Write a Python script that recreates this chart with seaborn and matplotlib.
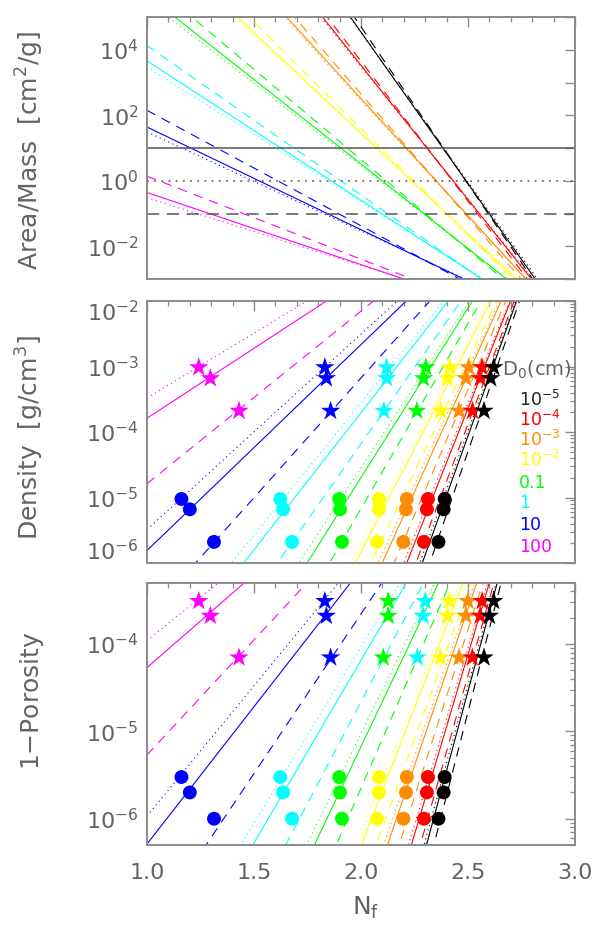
import numpy as np
import pandas as pd
import matplotlib
matplotlib.use("Agg")
import matplotlib.pyplot as plt
import matplotlib.ticker as mticker
import matplotlib.transforms as mtransforms
import seaborn as sns

# ---------------- data ----------------
sizes = ["10$^{-5}$", "10$^{-4}$", "10$^{-3}$", "10$^{-2}$", "0.1", "1", "10", "100"]
colors = ["#000000", "#ff0000", "#ff8c00", "#ffff00", "#00ff00", "#00ffff", "#0000ff", "#ff00ff"]

nf_ends = [1.0, 3.0]

# Area/Mass: log10 value at Nf=1 and Nf=3 (lines are straight in log space)
am_solid_start = [13.8, 11.72, 9.67, 7.60, 5.67, 3.66, 1.64, -0.36]
am_solid_end = [-4.72, -4.67, -4.65, -4.70, -4.65, -4.85, -4.63, -4.76]
am_dotted_start = [13.65, 11.57, 9.52, 7.45, 5.50, 3.47, 1.49, -0.52]
am_dotted_end = [-4.60, -4.60, -4.60, -4.60, -4.60, -4.75, -4.55, -4.65]
am_dashed_start = [14.3, 12.2, 10.2, 8.1, 6.15, 4.13, 2.15, 0.14]
am_dashed_end = [-4.90, -4.90, -4.90, -4.90, -4.85, -5.00, -4.90, -4.93]
am_ref_values = [10.0, 1.0, 0.1]
am_ref_styles = ["-", ":", "--"]

# Density: log10 value at Nf=1 and Nf=3
rho_solid_start = [-17.68, -16.0, -13.9, -12.14, -9.87, -7.89, -5.81, -3.79]
rho_dotted_start = [-17.38, -15.7, -13.6, -11.84, -9.57, -7.59, -5.49, -3.48]
rho_dashed_start = [-18.63, -16.95, -14.85, -13.09, -10.82, -8.84, -6.83, -4.79]
rho_end = [0.48, 0.48, 0.48, 0.48, 0.48, 0.48, 0.48, 0.48]

# 1-Porosity: log10 value at Nf=1 and Nf=3
por_solid_start = [-18.16, -16.48, -14.38, -12.62, -10.35, -8.37, -6.29, -4.27]
por_dotted_start = [-17.86, -16.18, -14.08, -12.32, -10.05, -8.07, -5.97, -3.96]
por_dashed_start = [-19.11, -17.43, -15.33, -13.57, -11.30, -9.32, -7.31, -5.27]
por_end = [0.0, 0.0, 0.0, 0.0, 0.0, 0.0, 0.0, 0.0]

# markers (stars: all 8 sizes, circles: first 7 sizes)
dens_star_x = [[2.62, 2.606, 2.575], [2.566, 2.557, 2.521], [2.503, 2.49, 2.458],
               [2.415, 2.404, 2.373], [2.303, 2.292, 2.261], [2.12, 2.12, 2.107],
               [1.831, 1.838, 1.858], [1.242, 1.296, 1.43]]
dens_star_y = [9.7e-4, 6.6e-4, 2.1e-4]
dens_circ_x = [[2.391, 2.386, 2.362], [2.313, 2.308, 2.294], [2.214, 2.21, 2.198],
               [2.084, 2.084, 2.075], [1.898, 1.902, 1.911], [1.623, 1.636, 1.678],
               [1.161, 1.2, 1.313]]
dens_circ_y = [9.5e-6, 6.6e-6, 2.1e-6]

por_star_x = [[2.62, 2.60, 2.575], [2.566, 2.557, 2.52], [2.50, 2.49, 2.458],
              [2.413, 2.404, 2.371], [2.127, 2.127, 2.104], [2.30, 2.29, 2.263],
              [1.831, 1.838, 1.858], [1.242, 1.296, 1.43]]
por_star_y = [3.1e-4, 2.1e-4, 7.0e-5]
por_circ_x = dens_circ_x
por_circ_y = [3.0e-6, 2.0e-6, 1.0e-6]

# ---------------- style ----------------
sns.set_theme(style="white")
plt.rcParams["font.family"] = ["DejaVu Sans"]
TXT = "#636363"
AX = "#8a8a8a"

palette = dict(zip(sizes, colors))
dash_map = {"solid": "", "dotted": (1.0, 3.2), "dashed": (8.5, 6.5)}


def line_frame(starts_by_style, ends_by_style):
    rows = []
    for style, starts in starts_by_style.items():
        ends = ends_by_style[style]
        for i, s in enumerate(sizes):
            for nf, lv in zip(nf_ends, [starts[i], ends[i]]):
                rows.append({"nf": nf, "val": 10.0 ** lv, "size": s,
                             "style": style, "unit": f"{s}-{style}"})
    return pd.DataFrame(rows)


def marker_frame(xs, ys, size_list):
    rows = []
    for i in reversed(range(len(xs))):
        for x, y in zip(xs[i], ys):
            rows.append({"nf": x, "val": y, "size": size_list[i]})
    return pd.DataFrame(rows)


fig = plt.figure(figsize=(6.04, 9.33), dpi=100)
left, width, h = 147 / 604, 428 / 604, 262 / 933
ax_top = fig.add_axes([left, 1 - 279 / 933, width, h])
ax_mid = fig.add_axes([left, 1 - 563 / 933, width, h])
ax_bot = fig.add_axes([left, 1 - 845 / 933, width, h])

for ax in (ax_top, ax_mid, ax_bot):
    ax.set_yscale("log")
    ax.set_xlim(1.0, 3.0)

STAR_S = 215
CIRC_S = 100

# top panel
df_am = line_frame({"solid": am_solid_start, "dotted": am_dotted_start, "dashed": am_dashed_start},
                   {"solid": am_solid_end, "dotted": am_dotted_end, "dashed": am_dashed_end})
sns.lineplot(data=df_am, x="nf", y="val", hue="size", style="style", units="unit",
             estimator=None, palette=palette, dashes=dash_map, linewidth=0.8,
             legend=False, ax=ax_top)
for v, ls in zip(am_ref_values, am_ref_styles):
    kw = {}
    if ls == "--":
        kw["dashes"] = (8, 5)
    elif ls == ":":
        kw["dashes"] = (1.2, 3.5)
    ax_top.axhline(v, color="#555555", linewidth=1.1, linestyle=ls, **kw)
ax_top.set_ylim(1e-3, 1e5)

# middle panel
df_rho = line_frame({"solid": rho_solid_start, "dotted": rho_dotted_start, "dashed": rho_dashed_start},
                    {"solid": rho_end, "dotted": rho_end, "dashed": rho_end})
sns.lineplot(data=df_rho, x="nf", y="val", hue="size", style="style", units="unit",
             estimator=None, palette=palette, dashes=dash_map, linewidth=0.8,
             legend=False, ax=ax_mid)
sns.scatterplot(data=marker_frame(dens_circ_x, dens_circ_y, sizes[:7]), x="nf", y="val",
                hue="size", palette=palette, marker="o", s=CIRC_S, linewidth=0,
                legend=False, ax=ax_mid, zorder=3)
sns.scatterplot(data=marker_frame(dens_star_x, dens_star_y, sizes), x="nf", y="val",
                hue="size", palette=palette, marker="*", s=STAR_S, linewidth=0,
                legend=False, ax=ax_mid, zorder=4)
ax_mid.set_ylim(1e-6, 1e-2)

# bottom panel
df_por = line_frame({"solid": por_solid_start, "dotted": por_dotted_start, "dashed": por_dashed_start},
                    {"solid": por_end, "dotted": por_end, "dashed": por_end})
sns.lineplot(data=df_por, x="nf", y="val", hue="size", style="style", units="unit",
             estimator=None, palette=palette, dashes=dash_map, linewidth=0.8,
             legend=False, ax=ax_bot)
sns.scatterplot(data=marker_frame(por_circ_x, por_circ_y, sizes[:7]), x="nf", y="val",
                hue="size", palette=palette, marker="o", s=CIRC_S, linewidth=0,
                legend=False, ax=ax_bot, zorder=3)
sns.scatterplot(data=marker_frame(por_star_x, por_star_y, sizes), x="nf", y="val",
                hue="size", palette=palette, marker="*", s=STAR_S, linewidth=0,
                legend=False, ax=ax_bot, zorder=4)
ax_bot.set_ylim(5e-7, 5e-4)

# ---------------- axes decoration ----------------
def even_fmt(v, pos):
    e = int(round(np.log10(v)))
    return f"$\\mathdefault{{10^{{{e}}}}}$" if e % 2 == 0 else ""

ax_top.yaxis.set_major_locator(mticker.LogLocator(base=10, subs=(1.0,), numticks=20))
ax_top.yaxis.set_major_formatter(mticker.FuncFormatter(even_fmt))
ax_top.yaxis.set_minor_locator(mticker.NullLocator())
for ax in (ax_mid, ax_bot):
    ax.yaxis.set_major_locator(mticker.LogLocator(base=10, subs=(1.0,), numticks=20))
    ax.yaxis.set_minor_locator(mticker.LogLocator(base=10, subs=np.arange(2, 10), numticks=20))
    ax.yaxis.set_minor_formatter(mticker.NullFormatter())

for ax in (ax_top, ax_mid, ax_bot):
    ax.xaxis.set_major_locator(mticker.MultipleLocator(0.5))
    ax.xaxis.set_minor_locator(mticker.MultipleLocator(0.1))
    ax.xaxis.set_major_formatter(mticker.FormatStrFormatter("%.1f"))
    ax.tick_params(which="both", direction="in", top=True, right=True, color=AX,
                   labelcolor=TXT, labelsize=16)
    ax.tick_params(which="major", length=7, width=1.0)
    ax.tick_params(which="minor", length=3.5, width=0.9)
    ax.tick_params(axis="y", pad=6)
    ax.tick_params(axis="x", pad=13)
    for sp in ax.spines.values():
        sp.set_color(AX)
        sp.set_linewidth(1.4)
    ax.set_xlabel("")
    ax.set_ylabel("")
    ax.grid(False)

ax_top.tick_params(axis="x", labelbottom=False)
ax_mid.tick_params(axis="x", labelbottom=False)

ax_top.set_ylabel("Area/Mass  [cm$^2$/g]", fontsize=18, color=TXT)
ax_mid.set_ylabel("Density  [g/cm$^3$]", fontsize=18, color=TXT)
ax_bot.set_ylabel("1$-$Porosity", fontsize=18, color=TXT)
ax_top.yaxis.set_label_coords(-0.235, 0.49)
ax_mid.yaxis.set_label_coords(-0.235, 0.48)
ax_bot.yaxis.set_label_coords(-0.235, 0.55)
ax_bot.set_xlabel("N$_\\mathregular{f}$", fontsize=18, color=TXT)
ax_bot.xaxis.set_label_coords(0.51, -0.19)

# size legend text
ax_mid.text(0.83, 0.737, "D$_0$(cm)", transform=ax_mid.transAxes, color=TXT,
            fontsize=14, va="center", ha="left")
leg_y = [0.622, 0.546, 0.469, 0.393, 0.305, 0.229, 0.145, 0.061]
for s, c, yy in zip(sizes, colors, leg_y):
    ax_mid.text(0.87, yy, s, transform=ax_mid.transAxes,
                color=c if c != "#000000" else "#222222",
                fontsize=12.5, va="center", ha="left")

# IDL-like nudging of the end labels of the density axis
fig.canvas.draw()
yl_ticks = ax_mid.yaxis.get_major_ticks()
yl_locs = ax_mid.yaxis.get_majorticklocs()
for tk, loc in zip(yl_ticks, yl_locs):
    if np.isclose(loc, 1e-2):
        tk.label1.set_transform(tk.label1.get_transform() +
                                mtransforms.ScaledTranslation(0, -7 / 72, fig.dpi_scale_trans))
    elif np.isclose(loc, 1e-6):
        tk.label1.set_transform(tk.label1.get_transform() +
                                mtransforms.ScaledTranslation(0, 10 / 72, fig.dpi_scale_trans))

fig.savefig("out.png", dpi=100)
